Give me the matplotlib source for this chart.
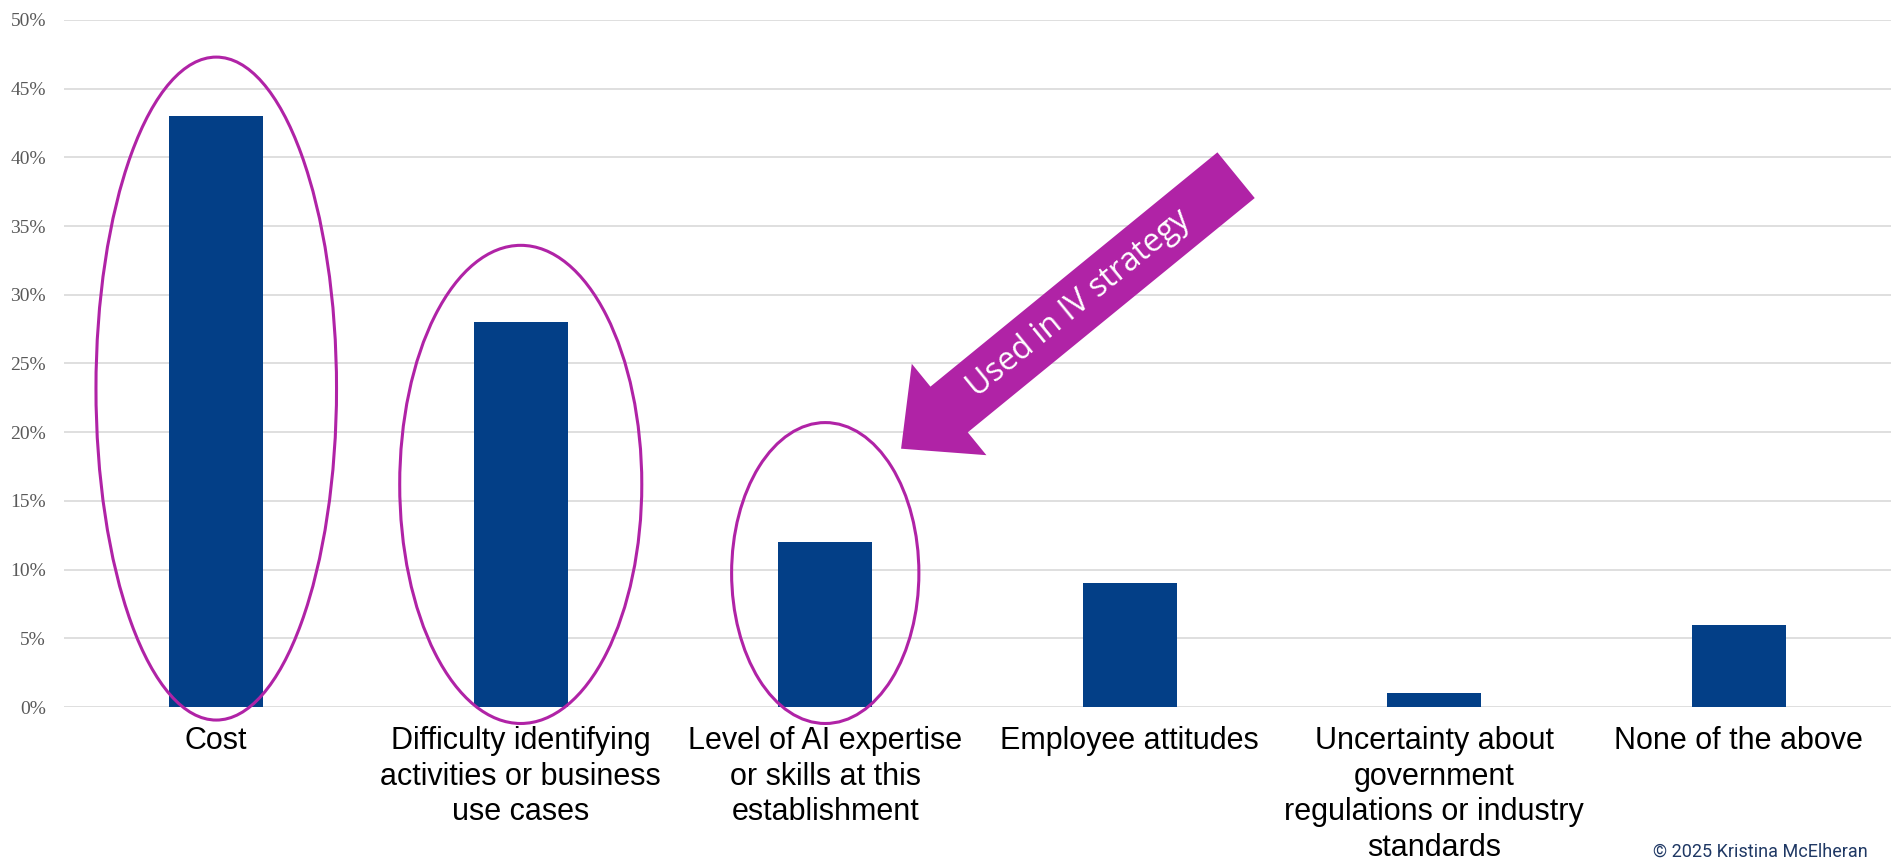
import numpy as np
import matplotlib
matplotlib.use("Agg")
import matplotlib.pyplot as plt
from matplotlib.patches import Ellipse, Polygon
from matplotlib.transforms import IdentityTransform

# barriers to AI adoption, share of establishments
categories = [
    "Cost",
    "Difficulty identifying\nactivities or business\nuse cases",
    "Level of AI expertise\nor skills at this\nestablishment",
    "Employee attitudes",
    "Uncertainty about\ngovernment\nregulations or industry\nstandards",
    "None of the above",
]
shares = [43, 28, 12, 9, 1, 6]
y_ticks = [0, 5, 10, 15, 20, 25, 30, 35, 40, 45, 50]
y_tick_labels = [f"{t}%" for t in y_ticks]

# highlighted bars: (index, width in categories, bottom %, top %)
circled = [(0, 0.79, -0.95, 47.3), (1, 0.795, -1.2, 33.6), (2, 0.615, -1.2, 20.7)]

BAR = "#033F87"
MAGENTA = "#B023A6"
W, H, DPI = 1895, 863, 100

fig = plt.figure(figsize=(W / DPI, H / DPI), dpi=DPI)
ax = fig.add_axes([64 / W, 1 - 707 / H, (1891 - 64) / W, (707 - 20) / H])

x = np.arange(len(categories))
ax.bar(x, shares, width=0.31, color=BAR, zorder=2)

ax.set_xlim(-0.5, len(categories) - 0.5)
ax.set_ylim(0, 50)
ax.set_yticks(y_ticks)
ax.set_yticklabels(y_tick_labels, fontfamily="Liberation Serif", fontsize=14, color="#595959")
ax.set_xticks(x)
ax.set_xticklabels(categories, fontfamily="Liberation Sans", fontsize=22, color="black",
                   linespacing=1.24)
ax.tick_params(axis="y", length=0, pad=13)
ax.tick_params(axis="x", length=0, pad=14)
ax.grid(axis="y", color="#D9D9D9", linewidth=1.2, zorder=0)
ax.set_axisbelow(True)
for s in ax.spines.values():
    s.set_visible(False)

for i, w, lo, hi in circled:
    ax.add_patch(Ellipse((x[i], (lo + hi) / 2), w, hi - lo, fill=False,
                         edgecolor=MAGENTA, linewidth=2.2, clip_on=False, zorder=3))

# block arrow pointing at the expertise bar, built in pixel space from its tip
fig.canvas.draw()
tip = ax.transData.transform((2.249, 18.8))
tail = tip + np.array([335.0, 273.5])  # display coords (y up), tail centre
d = (tip - tail) / np.linalg.norm(tip - tail)
n = np.array([-d[1], d[0]])
shaft_w, head_w, head_len = 59, 118, 62
neck = tip - d * head_len
pts = [
    tail + n * shaft_w / 2,
    neck + n * shaft_w / 2,
    neck + n * head_w / 2,
    tip,
    neck - n * head_w / 2,
    neck - n * shaft_w / 2,
    tail - n * shaft_w / 2,
]
fig.patches.append(Polygon(pts, closed=True, transform=IdentityTransform(),
                           facecolor=MAGENTA, edgecolor="none", zorder=5))
angle = np.degrees(np.arctan2(-d[1], -d[0]))
mid = tail + (tip - tail) * 0.47
fig.text(mid[0] / W, mid[1] / H, "Used in IV strategy", rotation=angle,
         rotation_mode="anchor", ha="center", va="center", color="white",
         fontfamily="Open Sans", fontsize=23, zorder=6)

fig.text(1653 / W, 2 / H, "© 2025 Kristina McElheran", ha="left", va="bottom",
         color="#1F3864", fontfamily="Roboto", fontsize=13)

fig.savefig("out.png", dpi=DPI)
